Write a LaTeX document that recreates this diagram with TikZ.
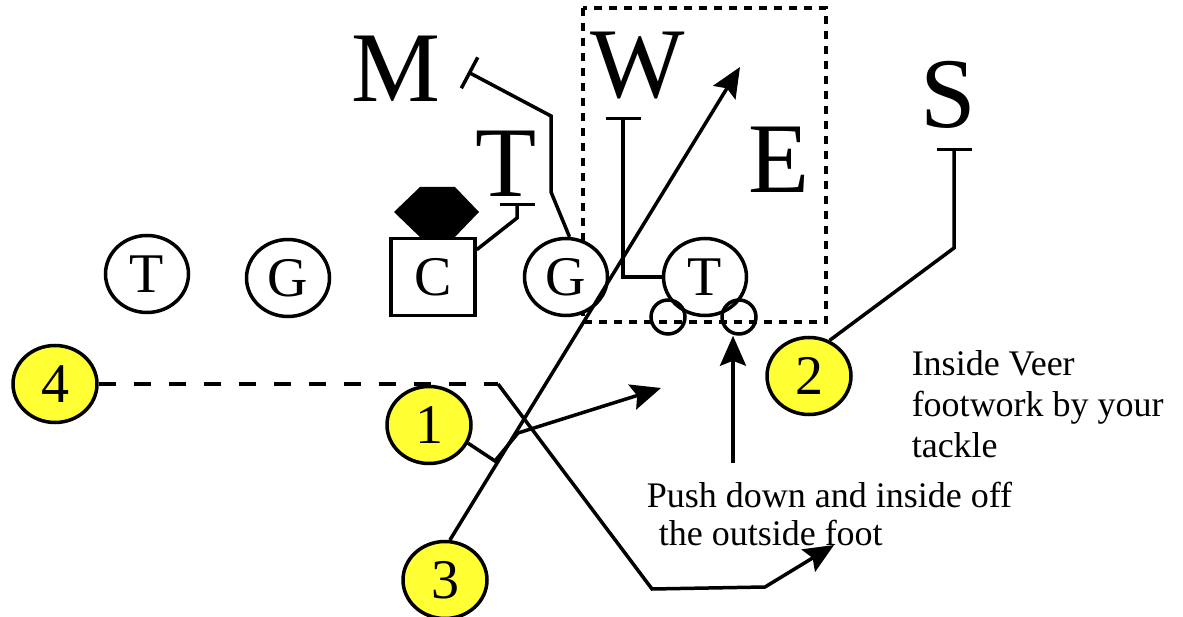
\documentclass[tikz,border=0pt]{standalone}
\usepackage{fontspec}
\setmainfont{Liberation Serif}
\usetikzlibrary{positioning, shapes.geometric, arrows.meta, calc}
\definecolor{callyellow}{RGB}{255,255,51}

\begin{document}
\begin{tikzpicture}[
      x=1pt, y=-1pt, line width=3.5pt,
      man/.style   = {draw, ellipse, fill=white, inner sep=0pt, minimum width=83pt,
                      minimum height=77pt, font=\fontsize{56}{56}\selectfont},
      call/.style  = {man, fill=callyellow, minimum width=84pt},
      ctr/.style   = {man, rectangle, minimum width=84pt},
      foot/.style  = {draw, circle, inner sep=0pt, minimum size=34pt},
      dman/.style  = {anchor=base, inner sep=0pt, font=\fontsize{100}{100}\selectfont},
      note/.style  = {anchor=north west, inner sep=0pt, align=left},
      block/.style = {{Bar[width=35pt]}-},
      arr/.style   = {-{Stealth[length=30pt, width=26pt, inset=5pt]}},
      zone/.style  = {dash pattern=on 8pt off 7pt}]
    \useasboundingbox (0,0) rectangle (1183,617);
    % the box round the inside veer area
    \draw[zone] (583,8) rectangle (826,322);
    % offensive line, left to right
    \node[man]  (lt) at (147,274) {T};
    \node[man]  (lg) at (288,278) {G};
    \node[ctr]  (c)  at (433,277) {C};
    \node[man]  (rg) at (566,277) {G};
    \node[man]  (rt) at (705,277) {T};
    \node[foot] (lf) at (668,317) {};
    \node[foot] (rf) at (739,317) {};
    \fill (420,187) -- (455,187) -- (479,212) -- (453,239) -- (422,239) -- (394,212) -- cycle;
    % defenders
    \node[dman] (m)  at (396,102) {M};
    \node[dman] (w)  at (638,98)  {W};
    \node[dman] (dt) at (506,197) {T};
    \node[dman] (e)  at (779,193) {E};
    \node[dman] (s)  at (948,128) {S};
    % numbered steps
    \node[call] (n4) at (55,384)  {4};
    \node[call] (n1) at (429,425) {1};
    \node[call] (n2) at (809,376) {2};
    \node[call] (n3) at (445,580) {3};
    % blocks
    \coordinate (mblk) at (468,72);
    \coordinate (wblk) at (623,117);
    \coordinate (tblk) at (517,203);
    \coordinate (sblk) at (954,148);
    \draw[block] (mblk) -- (551,116) -- (551,192) -- (rg.85);
    \draw[block] (wblk) |- (rt.west);
    \draw[block] (tblk) -- (517,218) -- (c.32);
    \draw[block] (sblk) -- (954,248) -- (n2.60);
    % routes
    \coordinate (r3)     at (740,67);
    \coordinate (r1)     at (661,388);
    \coordinate (r4turn) at (498,384);
    \coordinate (r4)     at (834,545);
    \coordinate (push)   at (733,463);
    \draw[arr] (n3.83) -- (r3);
    \draw[arr] (n1.-25) -- (495,461) -- (518,433) -- (r1);
    \draw[dash pattern=on 17pt off 18pt] (n4.east) -- (r4turn);
    \draw[arr] (r4turn) -- (652,589) -- (765,587) -- (r4);
    \draw[arr] (push) -- (push |- rf.south);
    % notes
    \node[note, font=\fontsize{36}{38}\selectfont] (pushtxt) at (645,480)
         {Push down and inside off\\\hspace*{12pt}the outside foot};
    \node[note, font=\fontsize{36}{41}\selectfont] (veer) at (910,349)
         {Inside Veer\\footwork by your\\tackle};
\end{tikzpicture}
\end{document}
